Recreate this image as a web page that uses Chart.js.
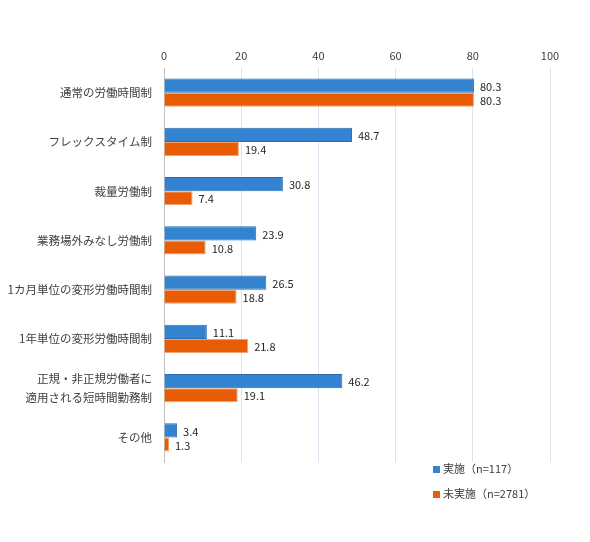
<!DOCTYPE html>
<html>
<head>
<meta charset="utf-8">
<script src="https://cdn.jsdelivr.net/npm/chart.js@4"></script>
<style>
  body { margin: 0; background: #fff; }
  #wrap { position: relative; width: 590px; height: 542px; }
  #legend { position: absolute; left: 433px; top: 460px; font: 11px "Noto Sans CJK JP", sans-serif; color: #404040; }
  #legend div { height: 25px; line-height: 16px; }
  #legend span { display: inline-block; width: 7px; height: 7px; margin-right: 3px; vertical-align: 0px; }
</style>
</head>
<body>
<div id="wrap">
  <canvas id="grafico" width="590" height="542"></canvas>
  <div id="legend"></div>
</div>
<script>
// categorias y valores
const categorias = [
  '通常の労働時間制',
  'フレックスタイム制',
  '裁量労働制',
  '業務場外みなし労働制',
  '1カ月単位の変形労働時間制',
  '1年単位の変形労働時間制',
  ['正規・非正規労働者に', '適用される短時間勤務制'],
  'その他'
];
const jisshi = [80.3, 48.7, 30.8, 23.9, 26.5, 11.1, 46.2, 3.4];
const mijisshi = [80.3, 19.4, 7.4, 10.8, 18.8, 21.8, 19.1, 1.3];
const nombres = ['実施（n=117）', '未実施（n=2781）'];
const colores = ['#3483d0', '#e85c05'];
const bordes = ['#2a6cb0', '#f2a070'];

const fuente = '"Noto Sans CJK JP", sans-serif';

// etiquetas al final de cada barra
const etiquetas = {
  id: 'etiquetas',
  afterDatasetsDraw(chart) {
    const ctx = chart.ctx;
    ctx.save();
    ctx.font = '11px ' + fuente;
    ctx.fillStyle = '#262626';
    ctx.textAlign = 'left';
    ctx.textBaseline = 'middle';
    chart.data.datasets.forEach((ds, i) => {
      chart.getDatasetMeta(i).data.forEach((el, j) => {
        ctx.fillText(ds.data[j].toFixed(1), el.x + 6, el.y + 1);
      });
    });
    ctx.restore();
  }
};

const ctx = document.getElementById('grafico');
new Chart(ctx, {
  type: 'bar',
  data: {
    labels: categorias,
    datasets: [
      { label: nombres[0], data: jisshi, backgroundColor: colores[0], borderColor: bordes[0], borderWidth: 1 },
      { label: nombres[1], data: mijisshi, backgroundColor: colores[1], borderColor: bordes[1], borderWidth: 1 }
    ]
  },
  options: {
    responsive: false,
    animation: false,
    indexAxis: 'y',
    layout: { padding: { top: 40, right: 40, bottom: 80, left: 0 } },
    categoryPercentage: 0.57,
    barPercentage: 1,
    plugins: { legend: { display: false }, tooltip: { enabled: false } },
    scales: {
      x: {
        position: 'top',
        min: 0, max: 100,
        ticks: { stepSize: 20, color: '#404040', font: { family: fuente, size: 11 }, padding: 6 },
        grid: { color: '#dae4f1', drawTicks: false },
        border: { display: false },
        afterFit: s => { s.height = 28; }
      },
      y: {
        ticks: { color: '#404040', font: { family: fuente, size: 11.5, lineHeight: 1.6 }, padding: 4 },
        grid: { display: false },
        border: { color: '#bfbfbf' },
        afterFit: s => { s.width = 164; }
      }
    }
  },
  plugins: [etiquetas]
});

// leyenda en html
const leyenda = document.getElementById('legend');
nombres.forEach((n, i) => {
  const d = document.createElement('div');
  d.innerHTML = '<span style="background:' + colores[i] + '"></span>' + n;
  leyenda.appendChild(d);
});
</script>
</body>
</html>
